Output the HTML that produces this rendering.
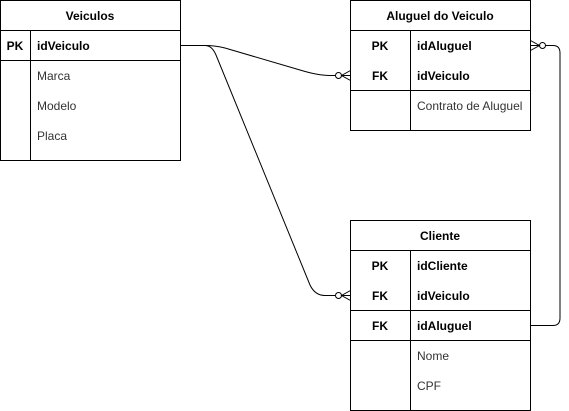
<!DOCTYPE html>
<html><head><meta charset="utf-8"><style>
html,body{margin:0;padding:0;background:#fff;}
svg{display:block;font-family:"Liberation Sans",Arial,sans-serif;font-size:12px;}
</style></head><body>
<svg width="569" height="411" viewBox="0 0 569 411" xmlns="http://www.w3.org/2000/svg">
<g fill="none" stroke="#000" stroke-width="1">
<!-- Veiculos -->
<rect x="0.5" y="0.5" width="180" height="160"/>
<line x1="0.5" y1="30.5" x2="180.5" y2="30.5"/>
<line x1="0.5" y1="60.5" x2="180.5" y2="60.5"/>
<line x1="30.5" y1="30.5" x2="30.5" y2="160.5"/>
<!-- Aluguel -->
<rect x="350.5" y="0.5" width="180" height="130"/>
<line x1="350.5" y1="30.5" x2="530.5" y2="30.5"/>
<line x1="350.5" y1="90.5" x2="530.5" y2="90.5"/>
<line x1="410.5" y1="30.5" x2="410.5" y2="130.5"/>
<!-- Cliente -->
<rect x="350.5" y="220.5" width="180" height="190"/>
<line x1="350.5" y1="250.5" x2="530.5" y2="250.5"/>
<line x1="350.5" y1="310.5" x2="530.5" y2="310.5"/>
<line x1="350.5" y1="340.5" x2="530.5" y2="340.5"/>
<line x1="410.5" y1="250.5" x2="410.5" y2="410.5"/>
<!-- connectors -->
<path d="M180.5 45.5 H205 Q215 45.5 225 48 L300 70 Q318 75.5 330 75.5 H335"/>
<path d="M180.5 45.5 H205 Q212 45.5 216 55 L310 285 Q315 295.5 325 295.5 H335"/>
<path d="M530.5 325.5 H553 Q560 325.5 560 318 V53 Q560 45.5 553 45.5 H545"/>
<!-- ends -->
<circle cx="338.5" cy="75.5" r="3"/>
<path d="M350.5 70.5 L341.5 75.5 L350.5 80.5 M341.5 75.5 H350.5"/>
<circle cx="338.5" cy="295.5" r="3"/>
<path d="M350.5 290.5 L341.5 295.5 L350.5 300.5 M341.5 295.5 H350.5"/>
<circle cx="542.5" cy="45.5" r="3"/>
<path d="M530.5 40.5 L539.5 45.5 L530.5 50.5 M530.5 45.5 H539.5"/>
</g>
<g fill="#000">
<text x="90" y="20" text-anchor="middle" font-weight="bold">Veiculos</text>
<text x="15" y="50" text-anchor="middle" font-weight="bold">PK</text>
<text x="37" y="50" font-weight="bold">idVeiculo</text>
<text x="37" y="80" fill="#333">Marca</text>
<text x="37" y="110" fill="#333">Modelo</text>
<text x="37" y="140" fill="#333">Placa</text>

<text x="440" y="20" text-anchor="middle" font-weight="bold">Aluguel do Veiculo</text>
<text x="380" y="50" text-anchor="middle" font-weight="bold">PK</text>
<text x="417" y="50" font-weight="bold">idAluguel</text>
<text x="380" y="80" text-anchor="middle" font-weight="bold">FK</text>
<text x="417" y="80" font-weight="bold">idVeiculo</text>
<text x="417" y="110" fill="#333">Contrato de Aluguel</text>

<text x="440" y="240" text-anchor="middle" font-weight="bold">Cliente</text>
<text x="380" y="270" text-anchor="middle" font-weight="bold">PK</text>
<text x="417" y="270" font-weight="bold">idCliente</text>
<text x="380" y="300" text-anchor="middle" font-weight="bold">FK</text>
<text x="417" y="300" font-weight="bold">idVeiculo</text>
<text x="380" y="330" text-anchor="middle" font-weight="bold">FK</text>
<text x="417" y="330" font-weight="bold">idAluguel</text>
<text x="417" y="360" fill="#333">Nome</text>
<text x="417" y="390" fill="#333">CPF</text>
</g>
</svg>
</body></html>
